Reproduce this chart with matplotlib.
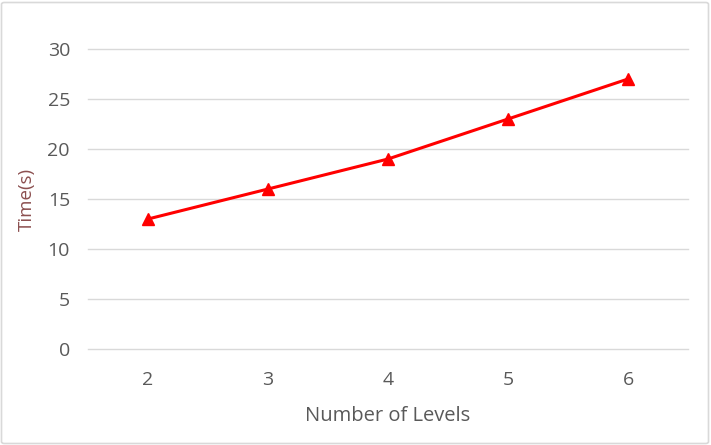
import matplotlib
matplotlib.use("Agg")
import matplotlib.pyplot as plt
from matplotlib.patches import FancyBboxPatch

levels = [2, 3, 4, 5, 6]
times = [13, 16, 19, 23, 27]
yticks = [0, 5, 10, 15, 20, 25, 30]

plt.rcParams['font.family'] = ['Open Sans', 'DejaVu Sans']

fig = plt.figure(figsize=(7.11, 4.45), dpi=100)
W, H = 711, 445
ax = fig.add_axes([88 / W, 1 - 349 / H, 600 / W, 300 / H])

ax.plot(levels, times, color='#FF0000', lw=2.2, marker='^', markersize=8,
        zorder=3, clip_on=False)
ax.set_xlim(1.5, 6.5)
ax.set_ylim(0, 30)
ax.set_yticks(yticks)
ax.set_xticks(levels)
for t in yticks:
    ax.axhline(t, color='#D9D9D9', lw=1, zorder=1, clip_on=False)
for s in ax.spines.values():
    s.set_visible(False)
ax.tick_params(length=0, labelsize=14, colors='#595959')
ax.tick_params(axis='x', pad=16)
ax.tick_params(axis='y', pad=13)
ax.set_xlabel('Number of Levels', fontsize=14.5, color='#595959', labelpad=12)
ax.set_ylabel('Time(s)', fontsize=13.5, color='#8C5050', labelpad=8)

border = FancyBboxPatch((1.5 / W, 1.5 / H), 1 - 4 / W, 1 - 4 / H,
                        boxstyle='round,pad=0,rounding_size=0.004',
                        transform=fig.transFigure, fill=False,
                        edgecolor='#D9D9D9', lw=1.2)
fig.patches.append(border)

fig.savefig('out.png', dpi=100)
